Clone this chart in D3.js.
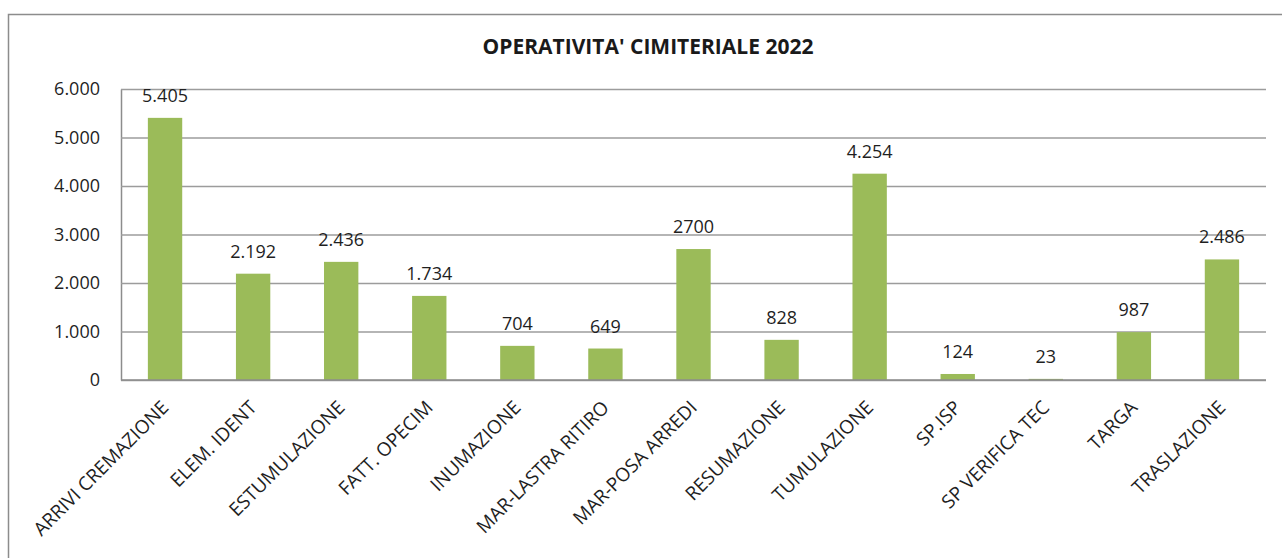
<!DOCTYPE html>
<html>
<head>
<meta charset="utf-8">
<script src="https://cdn.jsdelivr.net/npm/d3@7/dist/d3.min.js"></script>
<style>
  body { margin: 0; background: #fff; }
  svg { display: block; font-family: "Open Sans", sans-serif; }
</style>
</head>
<body>
<svg width="1282" height="558"></svg>
<script>
const categories = ["ARRIVI CREMAZIONE", "ELEM. IDENT", "ESTUMULAZIONE", "FATT. OPECIM", "INUMAZIONE",
  "MAR-LASTRA RITIRO", "MAR-POSA ARREDI", "RESUMAZIONE", "TUMULAZIONE", "SP.ISP",
  "SP VERIFICA TEC", "TARGA", "TRASLAZIONE"];
const values = [5405, 2192, 2436, 1734, 704, 649, 2700, 828, 4254, 124, 23, 987, 2486];
// labels as printed in the original (one has no thousands dot)
const valueLabels = ["5.405", "2.192", "2.436", "1.734", "704", "649", "2700", "828", "4.254", "124", "23", "987", "2.486"];
const yTicks = [0, 1000, 2000, 3000, 4000, 5000, 6000];
const title = "OPERATIVITA' CIMITERIALE 2022";

const width = 1282;
const height = 558;
const plot = { left: 121, right: 1266, top: 89, bottom: 380 };

const it = d3.formatLocale({ decimal: ",", thousands: ".", grouping: [3], currency: ["€", ""] });
const fmt = it.format(",");

const svg = d3.select("svg");

// outer frame (right/bottom edges fall outside the picture)
svg.append("rect")
    .attr("x", 8.5).attr("y", 14.5)
    .attr("width", 1300).attr("height", 600)
    .attr("fill", "none")
    .attr("stroke", "#8c8c8c")
    .attr("stroke-width", 1.5);

const xScale = d3.scaleBand()
    .domain(categories)
    .range([plot.left, plot.right])
    .paddingInner(0.61)
    .paddingOuter(0.305);

const yScale = d3.scaleLinear()
    .domain([0, 6000])
    .range([plot.bottom, plot.top]);

// gridlines + y labels
const yAxis = d3.axisLeft(yScale)
    .tickValues(yTicks)
    .tickFormat(fmt)
    .tickSize(-(plot.right - plot.left))
    .tickSizeOuter(0)
    .tickPadding(21);

const gy = svg.append("g")
    .attr("transform", "translate(" + plot.left + ",0)")
    .call(yAxis);
gy.select(".domain")
    .attr("stroke", "#8c8c8c")
    .attr("stroke-width", 1.5);
gy.selectAll(".tick line")
    .attr("stroke", "#9c9c9c")
    .attr("stroke-width", 1.6);
gy.selectAll(".tick text")
    .attr("fill", "#1f1f1f")
    .style("font-size", "18px")
    .style("font-family", "Open Sans, sans-serif");

// bars
svg.append("g")
    .selectAll("rect")
    .data(values)
    .enter()
    .append("rect")
        .attr("x", (d, i) => xScale(categories[i]))
        .attr("y", d => yScale(d))
        .attr("width", xScale.bandwidth())
        .attr("height", d => yScale(0) - yScale(d))
        .attr("fill", "#9bbb59");

// baseline drawn over the bars
svg.append("line")
    .attr("x1", plot.left).attr("x2", plot.right)
    .attr("y1", yScale(0)).attr("y2", yScale(0))
    .attr("stroke", "#8c8c8c")
    .attr("stroke-width", 1.6);

// value labels
svg.append("g")
    .selectAll("text")
    .data(values)
    .enter()
    .append("text")
        .attr("x", (d, i) => xScale(categories[i]) + xScale.bandwidth() / 2)
        .attr("y", d => yScale(d) - 16)
        .attr("text-anchor", "middle")
        .attr("fill", "#1f1f1f")
        .style("font-size", "18px")
        .text((d, i) => valueLabels[i]);

// category labels, rotated
svg.append("g")
    .selectAll("text")
    .data(categories)
    .enter()
    .append("text")
        .attr("transform", d => "translate(" + (xScale(d) + xScale.bandwidth() / 2) + ",404) rotate(-45)")
        .attr("text-anchor", "end")
        .attr("dy", "0.35em")
        .attr("fill", "#1f1f1f")
        .style("font-size", "19px")
        .text(d => d);

// title
svg.append("text")
    .attr("x", 648)
    .attr("y", 54)
    .attr("text-anchor", "middle")
    .attr("fill", "#1a1a1a")
    .style("font-size", "21px")
    .style("font-weight", "bold")
    .text(title);
</script>
</body>
</html>
